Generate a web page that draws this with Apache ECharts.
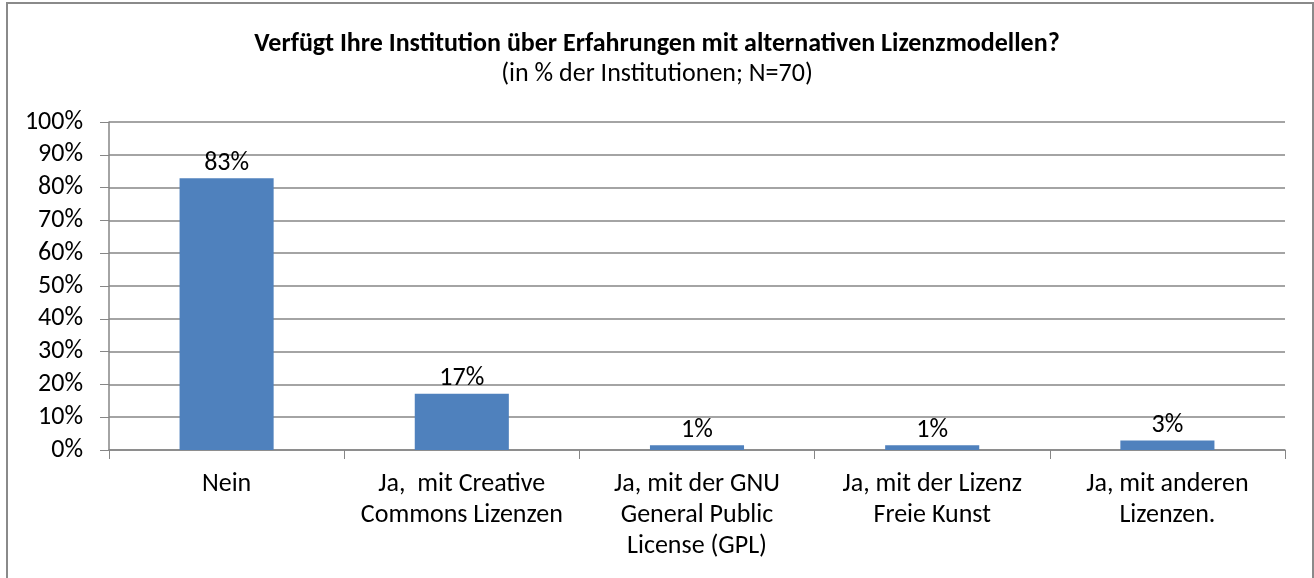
<!DOCTYPE html>
<html>
<head>
<meta charset="utf-8">
<script src="https://cdn.jsdelivr.net/npm/echarts@6/dist/echarts.min.js"></script>
<style>
    html, body {margin:0; padding:0; background:#fff;}
    #chart_box {width:1314px; height:578px;}
</style>
</head>
<body>
<div id="chart_box"></div>
<script>
let categories = ['Nein', 'Ja,  mit Creative\nCommons Lizenzen', 'Ja, mit der GNU\nGeneral Public\nLicense (GPL)', 'Ja, mit der Lizenz\nFreie Kunst', 'Ja, mit anderen\nLizenzen.'];
let share_values = [82.86, 17.14, 1.43, 1.43, 2.86];
let y_ticks = [0, 10, 20, 30, 40, 50, 60, 70, 80, 90, 100];

let font_main = 'Calibri, Carlito, "Open Sans", "Noto Sans", sans-serif';

let license_box = echarts.init(document.getElementById('chart_box'));
let license_option = {
    animation: false,
    color: ['#4f81bd'],
    textStyle: {fontFamily: font_main},
    title: {
        text: 'Verfügt Ihre Institution über Erfahrungen mit alternativen Lizenzmodellen?',
        subtext: '(in % der Institutionen; N=70)',
        left: 'center', top: 25, itemGap: 2,
        textStyle: {fontSize: 26, fontWeight: 'bold', color: '#000', fontFamily: font_main, lineHeight: 28},
        subtextStyle: {fontSize: 26, color: '#000', fontFamily: font_main, lineHeight: 28}
    },
    graphic: [{
        type: 'rect',
        shape: {x: 7, y: 3, width: 1306, height: 600},
        style: {fill: 'none', stroke: '#8a8a8a', lineWidth: 2},
        silent: true
    }],
    grid: {left: 109, right: 29, top: 122, bottom: 128},
    xAxis: [{
        type: 'category',
        data: categories,
        axisLine: {lineStyle: {color: '#868686', width: 1.5}},
        axisTick: {show: true, length: 9, lineStyle: {color: '#868686'}},
        axisLabel: {color: '#000', fontSize: 26, margin: 19, lineHeight: 31, interval: 0}
    }],
    yAxis: [{
        type: 'value',
        min: 0, max: 100, interval: 10,
        axisLine: {show: true, lineStyle: {color: '#868686', width: 1.5}},
        axisTick: {show: true, length: 9, lineStyle: {color: '#868686'}},
        axisLabel: {color: '#000', fontSize: 26, margin: 26,
            formatter: function (v) { return y_ticks.indexOf(v) >= 0 ? v + '%' : ''; }},
        splitLine: {lineStyle: {color: '#868686', width: 1.5}}
    }],
    series: [{
        name: 'Anteil',
        type: 'bar',
        data: share_values,
        barCategoryGap: '60%',
        itemStyle: {color: '#4f81bd'},
        label: {
            show: true, position: 'top', distance: 2,
            color: '#000', fontSize: 26,
            formatter: function (p) { return Math.round(p.value) + '%'; }
        }
    }]
};
license_box.setOption(license_option);
</script>
</body>
</html>
